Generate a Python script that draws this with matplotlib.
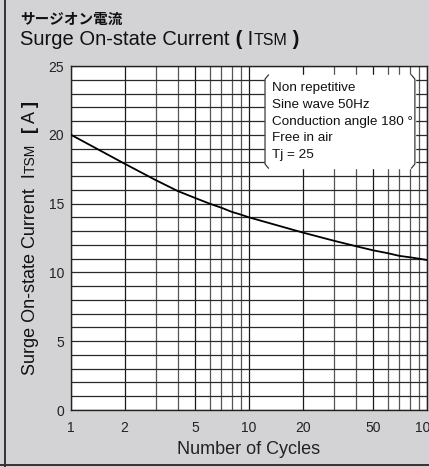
import matplotlib.pyplot as plt
import numpy as np
from matplotlib.lines import Line2D

plt.rcParams['font.family'] = ['Liberation Sans', 'Noto Sans CJK JP', 'DejaVu Sans']

# data
cycles = [1, 2, 3, 4, 5, 6, 7, 8, 9, 10, 20, 30, 40, 50, 60, 70, 80, 90, 100]
current = [20.0, 17.9, 16.7, 15.9, 15.4, 15.0, 14.7, 14.4, 14.2, 14.0,
           12.9, 12.3, 11.9, 11.6, 11.4, 11.2, 11.1, 11.0, 10.9]
x_ticks = [1, 2, 5, 10, 20, 50, 100]
y_ticks = [0, 5, 10, 15, 20, 25]
notes = ["Non repetitive", "Sine wave 50Hz", "Conduction angle 180 °",
         "Free in air", "Tj = 25"]

bg = "#d3d3d5"
fig = plt.figure(figsize=(4.29, 4.67), dpi=100, facecolor=bg)
ax = fig.add_axes([71 / 429, 57 / 467, 356 / 429, 344 / 467])
ax.set_facecolor("white")

ax.set_xscale("log")
ax.set_xlim(1, 100)
ax.set_ylim(0, 25)

# grid
for v in list(range(1, 10)) + list(range(10, 101, 10)):
    c = "#1a1a1a" if v in x_ticks else "#555555"
    ax.axvline(v, color=c, lw=0.9, zorder=1)
for v in range(0, 26):
    ax.axhline(v, color="#2a2a2a", lw=0.9, zorder=1)

ax.plot(cycles, current, color="black", lw=1.3, zorder=3)

ax.set_xticks(x_ticks)
ax.set_xticklabels([str(t) for t in x_ticks])
ax.set_xticks([], minor=True)
ax.set_yticks(y_ticks)
ax.tick_params(length=0, labelsize=10, colors="#222222")
ax.tick_params(axis="x", pad=8)
ax.tick_params(axis="y", pad=5)
for s in ax.spines.values():
    s.set_color("#222222")
    s.set_linewidth(1.0)

ax.set_xlabel("Number of Cycles", fontsize=13, color="#222222", labelpad=4)

# annotation box
bx0, bx1, by0, by1 = 0.545, 0.966, 0.703, 0.974
ax.fill_between([bx0, bx1], by0, by1, transform=ax.transAxes,
                color="white", zorder=4)
h = 0.012
ax.add_line(Line2D([bx0 + h * 0.8, bx0, bx0, bx0 + h * 0.8],
                   [by1, by1 - h, by0 + h, by0],
                   transform=ax.transAxes, color="#222222", lw=0.8, zorder=5))
ax.add_line(Line2D([bx1 - h * 0.8, bx1, bx1, bx1 - h * 0.8],
                   [by1, by1 - h, by0 + h, by0],
                   transform=ax.transAxes, color="#222222", lw=0.8, zorder=5))
for i, t in enumerate(notes):
    ax.text(0.565, 0.936 - i * 0.0487, t, transform=ax.transAxes, fontsize=9.7,
            va="center", ha="left", color="#111111", zorder=6)

# rich text helper: pieces placed one after another
fig.canvas.draw()
renderer = fig.canvas.get_renderer()


def rich(pieces, x, y, rotation=0, center=False):
    made = []
    pos = 0
    for txt, size, weight in pieces:
        t = fig.text(0, 0, txt, fontsize=size, fontweight=weight,
                     rotation=rotation, color="#111111", va="baseline",
                     ha="left", rotation_mode="anchor", transform=None)
        bb = t.get_window_extent(renderer)
        made.append((t, pos))
        pos += bb.height if rotation == 90 else bb.width
    start = -pos / 2 if center else 0
    for t, p in made:
        if rotation == 90:
            t.set_position((x, y + start + p))
        else:
            t.set_position((x + start + p, y))


rich([("サージオン電流", 10.5, "bold")], 20, 467 - 24)
rich([("Surge On-state Current", 14.5, "normal"), (" (", 14.5, "bold"),
      (" I", 14.5, "normal"), ("TSM", 11.5, "normal"), (" )", 14.5, "bold")],
     20, 467 - 45)
rich([("Surge On-state Current  I", 13, "normal"), ("TSM", 10, "normal"),
      ("  [", 13, "bold"), (" A ", 13, "normal"), ("]", 13, "bold")],
     35, 467 - 238, rotation=90, center=True)

# panel borders
fig.add_artist(Line2D([4.5 / 429, 4.5 / 429], [0, 1], color="#333333", lw=1.4))
fig.add_artist(Line2D([0, 1], [2.5 / 467, 2.5 / 467], color="#333333", lw=1.4))

fig.savefig("out.png", dpi=100, facecolor=bg)
